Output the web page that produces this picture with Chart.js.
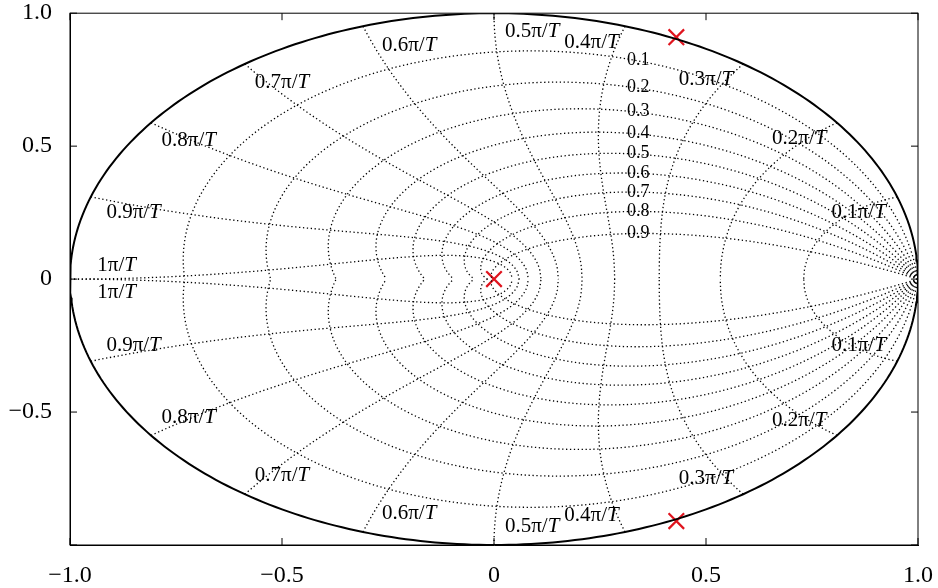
<!DOCTYPE html><html><head><script src="https://cdn.jsdelivr.net/npm/chart.js@4"></script>
<style>body{margin:0;background:#fff}#w{width:938px;height:588px}</style></head><body><div id="w"><canvas id="c"></canvas></div>
<script>
const poleX=[0,0.43,0.43];
const poleY=[0,0.91,-0.91];
const dampings=[0.1,0.2,0.3,0.4,0.5,0.6,0.7,0.8,0.9];
const freqs=[0.1,0.2,0.3,0.4,0.5,0.6,0.7,0.8,0.9,1.0];
const freqLabelX=[0.86,0.72,0.5,0.23,0.09,-0.2,-0.5,-0.72,-0.85,-0.89];
const freqLabelY=[0.25,0.53,0.75,0.89,0.93,0.88,0.74,0.52,0.25,0.05];
const xTicks=[-1,-0.5,0,0.5,1];
const yTicks=[-1,-0.5,0,0.5,1];
const fmt=v=>v===0?'0':(v<0?'\u2212':'')+Math.abs(v).toFixed(1);
const dot={borderColor:'#000',borderWidth:1.3,borderDash:[1.3,2.6],pointRadius:0,showLine:true,fill:false,tension:0};
const ds=[];
const circ=[];for(let i=0;i<=360;i++){const a=i*Math.PI/180;circ.push({x:Math.cos(a),y:Math.sin(a)});}
ds.push({data:circ,borderColor:'#000',borderWidth:2,pointRadius:0,showLine:true});
const dampCurves=[];
dampings.forEach(z=>{const up=[],lo=[];for(let i=0;i<=200;i++){const th=Math.PI*i/200;const r=Math.exp(-z/Math.sqrt(1-z*z)*th);up.push({x:r*Math.cos(th),y:r*Math.sin(th)});lo.push({x:r*Math.cos(th),y:-r*Math.sin(th)});}
 dampCurves.push(up);ds.push({...dot,data:up});ds.push({...dot,data:lo});});
freqs.forEach(f=>{const wn=f*Math.PI;const up=[],lo=[];for(let i=0;i<=100;i++){const z=i/100;const re=Math.exp(-z*wn),th=wn*Math.sqrt(1-z*z);up.push({x:re*Math.cos(th),y:re*Math.sin(th)});lo.push({x:re*Math.cos(th),y:-re*Math.sin(th)});}
 ds.push({...dot,data:up});ds.push({...dot,data:lo});});
ds.push({data:poleX.map((x,i)=>({x,y:poleY[i]})),pointStyle:'crossRot',pointRadius:11,pointBorderWidth:2.2,borderColor:'#e0141e',showLine:false});
const labels={id:'lab',afterDatasetsDraw(ch){const c=ch.ctx,xs=ch.scales.x,ys=ch.scales.y;c.save();c.fillStyle='#000';c.textBaseline='middle';
 const ca=ch.chartArea;c.strokeStyle='#000';c.lineWidth=1;
 c.strokeRect(ca.left,ca.top,ca.right-ca.left,ca.bottom-ca.top);
 xTicks.forEach(v=>{const p=xs.getPixelForValue(v);c.beginPath();c.moveTo(p,ca.bottom);c.lineTo(p,ca.bottom-7);c.moveTo(p,ca.top);c.lineTo(p,ca.top+7);c.stroke();});
 yTicks.forEach(v=>{const p=ys.getPixelForValue(v);c.beginPath();c.moveTo(ca.left,p);c.lineTo(ca.left+7,p);c.moveTo(ca.right,p);c.lineTo(ca.right-7,p);c.stroke();});
 const F='21px "Liberation Serif"',FI='italic 21px "Liberation Serif"';
 const draw=(t,x,y)=>{c.font=F;const w1=c.measureText(t).width;c.font=FI;const w2=c.measureText('T').width;const sx=x-(w1+w2)/2;c.textAlign='left';c.font=F;c.fillText(t,sx,y);c.font=FI;c.fillText('T',sx+w1,y);};
 freqs.forEach((f,i)=>{const t=(f===1?'1':f.toFixed(1))+'\u03c0/';
  draw(t,xs.getPixelForValue(freqLabelX[i]),ys.getPixelForValue(freqLabelY[i]));draw(t,xs.getPixelForValue(freqLabelX[i]),ys.getPixelForValue(-freqLabelY[i]));});
 c.font='18px "Liberation Serif"';c.textAlign='center';
 dampCurves.forEach((cv,i)=>{let best=cv[0];for(const p of cv){if(p.x<0.33){best=p;break;}}c.fillText(String(dampings[i]),xs.getPixelForValue(0.34),ys.getPixelForValue(best.y));});
 c.restore();}};
new Chart(document.getElementById('c'),{type:'scatter',data:{datasets:ds},plugins:[labels],
options:{responsive:true,maintainAspectRatio:false,animation:false,layout:{padding:{top:13,right:20,left:0,bottom:0}},
plugins:{legend:{display:false},tooltip:{enabled:false}},
scales:{x:{min:-1,max:1,afterBuildTicks:a=>{a.ticks=xTicks.map(v=>({value:v}));},afterFit:a=>{a.height=43;a.paddingLeft=0;a.paddingRight=0;},
 grid:{display:false},border:{display:true,color:'#000',width:1},ticks:{color:'#000',font:{family:'Liberation Serif',size:24},callback:v=>fmt(v),maxRotation:0,padding:8}},
 y:{min:-1,max:1,afterBuildTicks:a=>{a.ticks=yTicks.map(v=>({value:v}));},afterFit:a=>{a.width=70;a.paddingTop=0;a.paddingBottom=0;},
 grid:{display:false},border:{display:true,color:'#000',width:1},ticks:{color:'#000',font:{family:'Liberation Serif',size:24},callback:v=>v===-1?'':fmt(v),padding:10}}}}});
</script></body></html>
